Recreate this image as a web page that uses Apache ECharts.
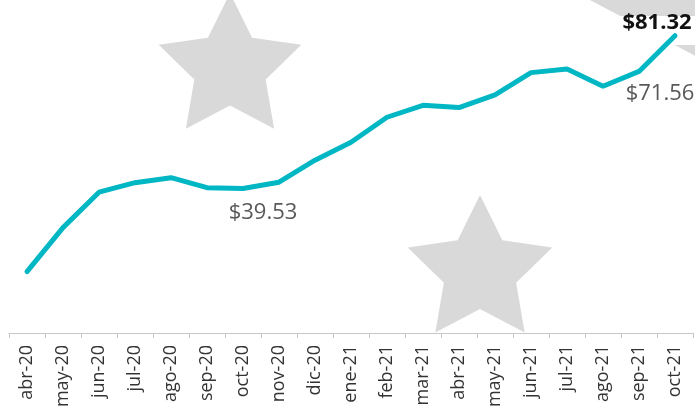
<!DOCTYPE html>
<html>
<head>
<meta charset="utf-8">
<script src="https://cdn.jsdelivr.net/npm/echarts@6/dist/echarts.min.js"></script>
<style>
	html, body { margin: 0; padding: 0; background: #fff; }
	#chart { width: 695px; height: 415px; }
</style>
</head>
<body>
<div id="chart"></div>
<script>
var meses = ['abr-20', 'may-20', 'jun-20', 'jul-20', 'ago-20', 'sep-20', 'oct-20', 'nov-20', 'dic-20',
	'ene-21', 'feb-21', 'mar-21', 'abr-21', 'may-21', 'jun-21', 'jul-21', 'ago-21', 'sep-21', 'oct-21'];
var precios = [16.80, 28.83, 38.52, 41.12, 42.49, 39.75, 39.53, 41.26, 47.27,
	52.19, 59.02, 62.30, 61.67, 65.16, 71.23, 72.19, 67.49, 71.56, 81.32];
// puntos con etiqueta
var etiquetas = [6, 17, 18];

var myChart = echarts.init(document.getElementById('chart'));

// estrella de 5 puntas (fondo)
function estrella(cx, cy, r, rot, z) {
	var pts = [];
	for(var k = 0; k < 10; k++) {
		var rr = k % 2 == 0 ? r : r * 0.5;
		var a = (-90 + rot + k * 36) * Math.PI / 180;
		pts.push([cx + rr * Math.cos(a), cy + rr * Math.sin(a)]);
	}
	return {
		type: 'polygon',
		z: z,
		silent: true,
		shape: { points: pts },
		style: { fill: '#d9d9d9' }
	};
}

var datos = precios.map(function(v, i) {
	if(etiquetas.indexOf(i) < 0) return v;
	var lbl = {
		show: true,
		fontFamily: 'Open Sans',
		fontSize: 22,
		color: '#595959',
		position: 'bottom',
		formatter: function(p) {
			return '$' + p.value.toFixed(2);
		}
	};
	if(i == 6) lbl.offset = [20, 8];
	if(i == 17) lbl.offset = [21, 6];
	if(i == precios.length - 1) {
		lbl.position = 'top';
		lbl.offset = [-18, 3];
		lbl.fontWeight = 'bold';
		lbl.color = '#111';
	}
	return { value: v, label: lbl };
});

var option = {
	backgroundColor: '#fff',
	animation: false,
	graphic: {
		elements: [
			estrella(230, 68, 75, 0, 0),
			estrella(480, 271, 76, 0, 0),
			estrella(780.8, 1, 200, -16.34, 0),
			{
				type: 'rect',
				z: 1,
				silent: true,
				shape: { x: 618, y: 16, width: 80, height: 29 },
				style: { fill: '#fff' }
			}
		]
	},
	grid: {
		left: 9,
		right: 2,
		top: 4,
		bottom: 82
	},
	xAxis: {
		type: 'category',
		data: meses,
		boundaryGap: true,
		axisLine: { lineStyle: { color: '#c8c8c8', width: 1 } },
		axisTick: { show: true, length: 5, lineStyle: { color: '#c8c8c8' } },
		axisLabel: {
			rotate: 90,
			margin: 12,
			interval: 0,
			fontFamily: 'Open Sans',
			fontSize: 18,
			color: '#333'
		}
	},
	yAxis: {
		type: 'value',
		min: 0,
		max: 90,
		show: false
	},
	series: [{
		type: 'line',
		data: datos,
		symbol: 'circle',
		symbolSize: 0,
		showSymbol: true,
		z: 3,
		lineStyle: { color: '#01b7c4', width: 5, cap: 'round' },
		itemStyle: { color: '#01b7c4' }
	}]
};

myChart.setOption(option);
</script>
</body>
</html>
